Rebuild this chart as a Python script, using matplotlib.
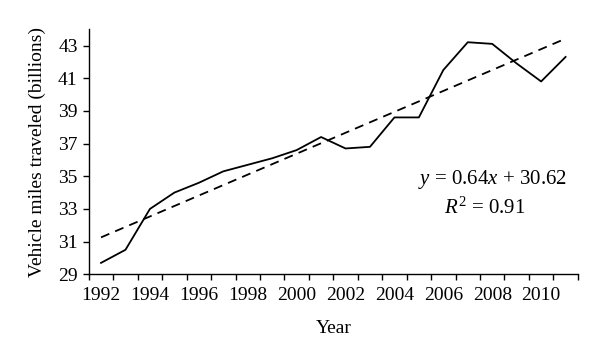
import matplotlib.pyplot as plt
import numpy as np

plt.rcParams['font.family'] = ['Liberation Serif', 'DejaVu Serif']
plt.rcParams['mathtext.fontset'] = 'custom'
plt.rcParams['mathtext.rm'] = 'Liberation Serif'
plt.rcParams['mathtext.it'] = 'Liberation Serif:italic'

# Vehicle miles traveled per year (billions)
years = list(range(1992, 2012))
vmt = [29.7, 30.5, 33.0, 34.0, 34.6, 35.3, 35.7, 36.1, 36.6, 37.4,
       36.7, 36.8, 38.6, 38.6, 41.5, 43.2, 43.1, 41.9, 40.8, 42.3]

# linear trend, x = 1 for 1992
slope = 0.64
intercept = 30.62
r2 = 0.91

yr = np.array(years)
trend = slope * (yr - yr[0] + 1) + intercept

fig = plt.figure(figsize=(6, 3.6), dpi=100)
ax = fig.add_axes([0.148, 0.238, 0.815, 0.681])

ax.plot(yr, vmt, color="black", linewidth=1.3)
ax.plot(yr, trend, color="black", linewidth=1.3, linestyle=(0, (5, 3.5)))

ax.set_xlim(yr[0] - 0.5, yr[-1] + 0.5)
ax.set_ylim(29, 44)
ax.set_yticks(np.arange(29, 44, 2))

# labels on category centres, tick marks between categories
ax.set_xticks(yr[::2])
ax.set_xticks(np.arange(yr[0] - 0.5, yr[-1] + 1), minor=True)
ax.tick_params(axis="x", which="major", length=0, pad=9, labelsize=14)
ax.tick_params(axis="x", which="minor", length=4, width=1, direction="out")
ax.tick_params(axis="y", length=4, width=1, direction="out", labelsize=14, pad=4)

for s in ["top", "right"]:
    ax.spines[s].set_visible(False)
for s in ["left", "bottom"]:
    ax.spines[s].set_linewidth(1)

ax.set_xlabel("Year", fontsize=14, labelpad=12)
ax.set_ylabel("Vehicle miles traveled (billions)", fontsize=14, labelpad=9)

ax.text(0.826, 0.385, r"$y$ = %.2f$x$ + %.2f" % (slope, intercept), transform=ax.transAxes,
        ha="center", va="center", fontsize=15)
ax.text(0.810, 0.268, r"$R^2$ = %.2f" % r2, transform=ax.transAxes,
        ha="center", va="center", fontsize=15)

plt.savefig("out.png", dpi=100)
plt.close()
